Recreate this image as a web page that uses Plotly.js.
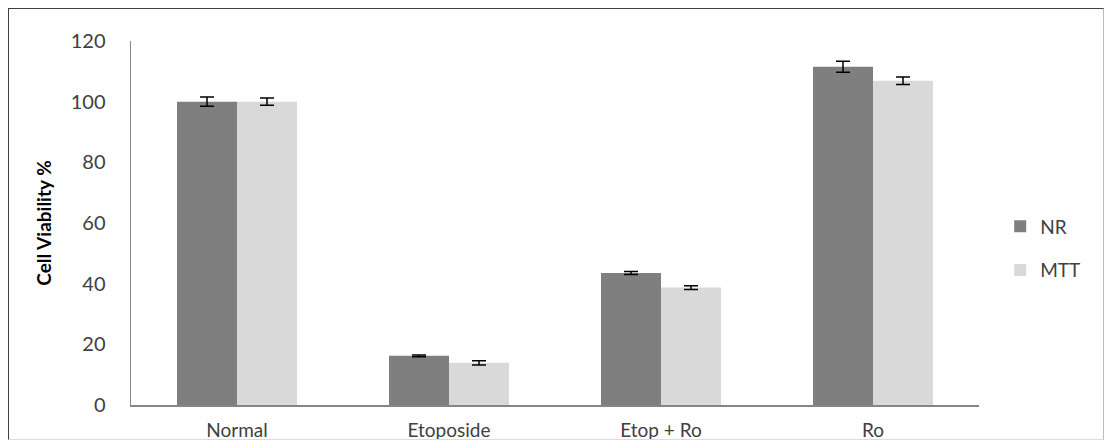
<!DOCTYPE html>
<html>
<head>
<meta charset="utf-8">
<script src="https://cdn.plot.ly/plotly-3.0.1.min.js"></script>
<style>
  html, body { margin: 0; padding: 0; background: #fff; }
  #wrap { position: relative; width: 1105px; height: 442px; }
  #chart { width: 1105px; height: 442px; }
  #frame { position: absolute; left: 8px; top: 8px; width: 1096px; height: 432px;
           border-left: 1px solid #404040; border-top: 1px solid #404040;
           border-right: 1px solid #bbb; border-bottom: 1px solid #ddd;
           box-sizing: border-box; pointer-events: none; }
</style>
</head>
<body>
<div id="wrap">
  <div id="chart"></div>
  <div id="frame"></div>
</div>
<script>
const categories = ["Normal", "Etoposide", "Etop + Ro", "Ro"];
const nrValues = [100, 16.2, 43.5, 111.5];
const nrErrors = [1.5, 0.3, 0.5, 1.8];
const mttValues = [100, 13.9, 38.7, 106.9];
const mttErrors = [1.2, 0.7, 0.6, 1.2];
const yTicks = [0, 20, 40, 60, 80, 100, 120];

const font = "Lato, 'Open Sans', sans-serif";

const traces = [
  {
    type: "bar", name: "NR", x: categories, y: nrValues, legendgroup: "nr",
    marker: { color: "#7f7f7f" },
    error_y: { type: "data", array: nrErrors, visible: true, color: "#000", thickness: 1.5, width: 7 }
  },
  {
    type: "bar", name: "MTT", x: categories, y: mttValues, legendgroup: "mtt",
    marker: { color: "#d9d9d9" },
    error_y: { type: "data", array: mttErrors, visible: true, color: "#000", thickness: 1.5, width: 7 }
  }
];

const layout = {
  width: 1105, height: 442,
  margin: { l: 131, r: 126, t: 41, b: 37 },
  paper_bgcolor: "#fff", plot_bgcolor: "#fff",
  barmode: "group", bargap: 0.434, bargroupgap: 0,
  font: { family: font, color: "#404040" },
  showlegend: true,
  legend: {
    x: 1.025, y: 0.43, xanchor: "left", yanchor: "middle",
    traceorder: "grouped",
    font: { family: font, size: 19, color: "#404040" },
    tracegroupgap: 16, itemwidth: 30
  },
  xaxis: {
    type: "category", showgrid: false, showline: true, linecolor: "#868686", linewidth: 1.5,
    ticks: "", tickfont: { family: font, size: 19, color: "#404040" }, ticklabelstandoff: 8
  },
  yaxis: {
    range: [0, 120], tickvals: yTicks, ticktext: yTicks.map(String),
    showgrid: false, showline: true, linecolor: "#868686", linewidth: 1.5, zeroline: false,
    ticks: "", tickfont: { family: font, size: 20, color: "#404040" }, ticklabelstandoff: 20,
    title: { text: "<b>Cell Viability %</b>", font: { family: font, size: 19, color: "#000" }, standoff: 14 }
  }
};

Plotly.newPlot("chart", traces, layout, { staticPlot: true, displayModeBar: false });
</script>
</body>
</html>
